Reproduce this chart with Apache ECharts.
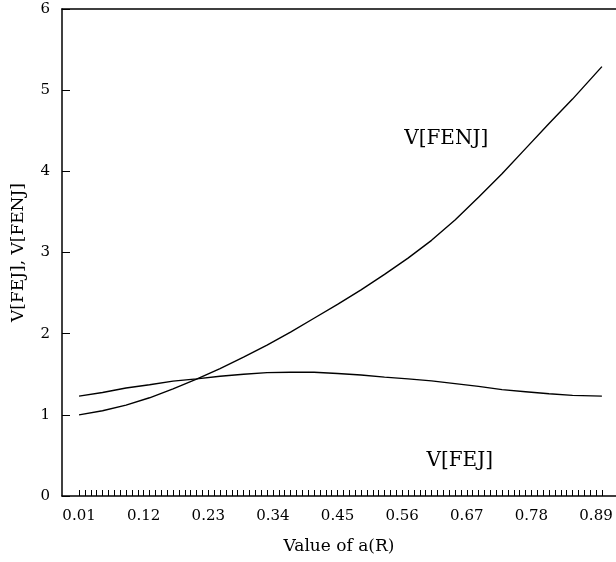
<!DOCTYPE html>
<html>
<head>
<meta charset="utf-8">
<script src="https://cdn.jsdelivr.net/npm/echarts@6/dist/echarts.min.js"></script>
<style>
  html, body { margin: 0; padding: 0; background: #fff; }
  #chart { width: 616px; height: 562px; }
</style>
</head>
<body>
<div id="chart"></div>
<script>
  // values of a(R)
  var aR = [0.01, 0.05, 0.09, 0.13, 0.17, 0.21, 0.25, 0.29, 0.33, 0.37, 0.41, 0.45,
    0.49, 0.53, 0.57, 0.61, 0.65, 0.69, 0.73, 0.77, 0.81, 0.85, 0.90]
  var vFENJ = [1.00, 1.05, 1.12, 1.21, 1.32, 1.44, 1.57, 1.71, 1.86, 2.02, 2.19, 2.36,
    2.54, 2.73, 2.93, 3.15, 3.40, 3.68, 3.97, 4.28, 4.59, 4.89, 5.29]
  var vFEJ = [1.23, 1.275, 1.33, 1.37, 1.415, 1.443, 1.475, 1.50, 1.52, 1.525, 1.525, 1.51,
    1.49, 1.465, 1.443, 1.418, 1.385, 1.35, 1.31, 1.285, 1.26, 1.24, 1.23]

  var xLabels = ['0.01', '0.12', '0.23', '0.34', '0.45', '0.56', '0.67', '0.78', '0.89']
  var yTicks = [0, 1, 2, 3, 4, 5, 6]

  // minor ticks every 0.01 from 0.01 to 0.90
  var xTicks = []
  for (var i = 1; i <= 90; i++) {
    xTicks.push(i / 100)
  }

  var font = 'DejaVu Serif'
  var ink = '#000'

  function pairs(xs, ys) {
    return xs.map(function (x, k) { return [x, ys[k]] })
  }

  function textMark(name, coord) {
    return {
      symbol: 'circle',
      symbolSize: 1,
      itemStyle: { color: 'rgba(0,0,0,0)' },
      label: {
        show: true,
        position: 'inside',
        formatter: name,
        color: ink,
        fontFamily: font,
        fontSize: 20
      },
      data: [{ coord: coord }]
    }
  }

  var chart = echarts.init(document.getElementById('chart'))

  chart.setOption({
    animation: false,
    backgroundColor: '#fff',
    grid: { left: 62, right: 0, top: 9, bottom: 66, outerBoundsMode: 'none', containLabel: false },
    xAxis: [{
      type: 'value',
      min: -0.019,
      max: 0.924,
      splitLine: { show: false },
      axisLine: { show: true, onZero: false, lineStyle: { color: ink, width: 1.5 } },
      axisTick: {
        show: true,
        inside: true,
        length: 6,
        customValues: xTicks,
        lineStyle: { color: ink, width: 1 }
      },
      axisLabel: {
        customValues: xLabels.map(Number),
        formatter: function (v) { return v.toFixed(2) },
        color: ink,
        fontFamily: font,
        fontSize: 15,
        margin: 13
      },
      name: 'Value of a(R)',
      nameLocation: 'middle',
      nameGap: 42,
      nameTextStyle: { color: ink, fontFamily: font, fontSize: 17 }
    }, {
      type: 'value',
      position: 'top',
      min: -0.019,
      max: 0.924,
      splitLine: { show: false },
      axisLine: { show: true, onZero: false, lineStyle: { color: ink, width: 1.5 } },
      axisTick: { show: false },
      axisLabel: { show: false }
    }],
    yAxis: {
      type: 'value',
      min: yTicks[0],
      max: yTicks[yTicks.length - 1],
      interval: 1,
      splitLine: { show: false },
      axisLine: { show: true, onZero: false, lineStyle: { color: ink, width: 1.5 } },
      axisTick: { show: true, inside: true, length: 8, lineStyle: { color: ink } },
      axisLabel: { color: ink, fontFamily: font, fontSize: 15, margin: 12 },
      name: 'V[FEJ], V[FENJ]',
      nameLocation: 'middle',
      nameGap: 35,
      nameTextStyle: { color: ink, fontFamily: font, fontSize: 17 }
    },
    series: [{
      name: 'V[FENJ]',
      type: 'line',
      showSymbol: false,
      lineStyle: { color: ink, width: 1.4 },
      data: pairs(aR, vFENJ),
      markPoint: textMark('V[FENJ]', [0.635, 4.40])
    }, {
      name: 'V[FEJ]',
      type: 'line',
      showSymbol: false,
      lineStyle: { color: ink, width: 1.4 },
      data: pairs(aR, vFEJ),
      markPoint: textMark('V[FEJ]', [0.658, 0.43])
    }]
  })
</script>
</body>
</html>
